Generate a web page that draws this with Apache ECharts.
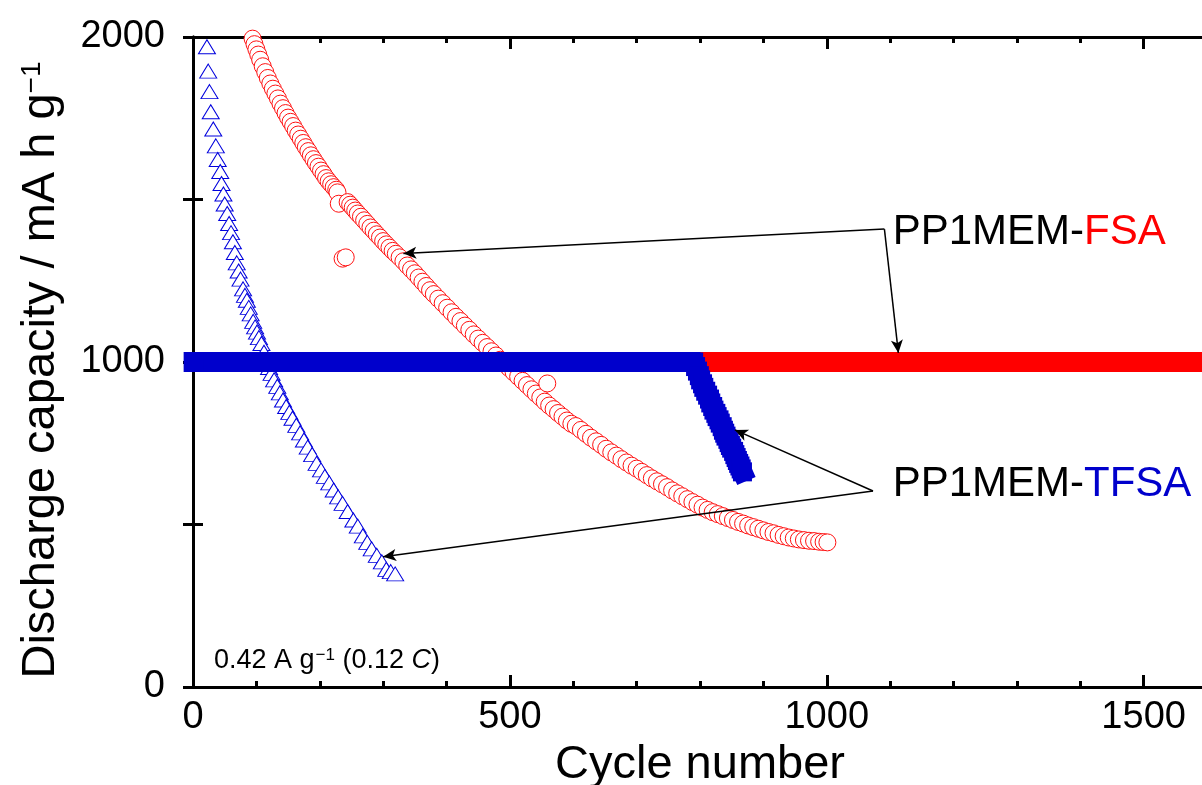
<!DOCTYPE html>
<html>
<head>
<meta charset="utf-8">
<script src="https://cdn.jsdelivr.net/npm/echarts@6/dist/echarts.min.js"></script>
<style>
html,body{margin:0;padding:0;background:#fff;overflow:hidden;}
#chart{width:1202px;height:785px;}
</style>
</head>
<body>
<div id="chart"></div>
<script>
// ---------------- data ----------------
// PP1MEM-FSA discharge capacity (open red circles)
const fsaCycles = [94,97,100,103,106,110,114,118,122,126,130,134,138,142,146,150,154,158,162,166,170,174,178,182,186,190,194,198,202,206,210,214,218,222,226,228,230,236,241,244,248,252,256,260,265,270,275,280,285,290,295,300,305,310,315,320,326,332,338,344,350,356,362,368,374,380,387,394,401,408,415,422,429,436,443,450,457,464,471,478,485,492,499,506,513,520,527,534,541,548,555,559,562,569,576,583,590,597,604,612,620,628,636,644,652,660,668,676,684,692,700,708,716,724,732,740,748,756,764,772,780,788,796,804,812,820,828,836,844,852,860,868,876,884,892,900,908,916,924,932,940,948,956,964,972,980,988,995,1001];
const fsaValues = [1995,1978,1962,1946,1930,1910,1892,1874,1857,1841,1826,1811,1795,1781,1766,1752,1739,1726,1712,1700,1687,1674,1661,1649,1636,1624,1612,1601,1589,1578,1566,1556,1547,1538,1530,1522,1487,1318,1322,1492,1484,1475,1466,1457,1447,1436,1425,1414,1404,1393,1383,1372,1362,1352,1342,1333,1322,1310,1297,1285,1273,1260,1247,1234,1221,1209,1195,1181,1167,1153,1139,1126,1112,1099,1085,1072,1059,1046,1033,1020,1007,994,981,968,955,942,929,916,903,891,878,934,866,855,843,832,820,810,803,791,779,767,756,745,733,722,712,701,691,681,672,662,652,642,633,624,615,605,596,587,578,569,561,552,545,538,532,526,520,514,508,503,497,492,487,482,477,473,468,464,460,457,454,452,450,449,447,446,445];

// PP1MEM-TFSA discharge capacity (open blue triangles)
const tfsaCycles = [22,24,26,28,32,36,39,43,45,48,50,54,57,60,63,66,69,72,75,79,82,85,88,91,95,98,101,104,108,112,116,120,124,128,133,137,142,147,152,157,163,169,175,181,188,195,202,208,215,222,229,236,244,253,260,268,275,282,290,298,305,312,319];
const tfsaValues = [1970,1895,1832,1770,1717,1665,1623,1586,1549,1517,1486,1457,1426,1398,1370,1337,1305,1280,1255,1225,1205,1190,1168,1148,1125,1108,1092,1075,1057,1030,1001,983,965,945,925,905,883,863,845,827,805,782,760,738,715,688,668,648,628,606,585,565,540,514,495,465,445,425,405,385,362,355,348];

// Charge capacity (capacity-limited at 1000), thick bands
const fsaChargeCycles = [1,1620];
const fsaChargeValues = [1000,1000];
const tfsaChargeCycles = [1,790,793,796,799,801,804,806,809,812,815,817,820,822,825,827,830,832,835,837,839,841,844,846,848,850,853,855,857,859,861,863,865,867];
const tfsaChargeValues = [1000,1000,986,972,958,945,933,922,910,898,886,874,863,852,842,832,822,812,801,790,781,772,762,752,743,735,725,715,706,697,688,680,671,662];

// annotation arrows: [fromCycle, fromValue, toCycle, toValue]
const arrows = [
  [1091, 1409, 332, 1334],
  [1091, 1409, 1113, 1028],
  [1073, 603, 855, 791],
  [1073, 603, 300, 401]
];

// axis tick labels
const xLabelValues = [0, 500, 1000, 1500];
const yLabelValues = [0, 1000, 2000];

// ---------------- chart ----------------
const pair = (xs, ys) => xs.map((x, i) => [x, ys[i]]);
const FONT = '"Liberation Sans", Arial, sans-serif';
const chart = echarts.init(document.getElementById('chart'), null, {renderer: 'canvas'});

const axisLine = {show: true, lineStyle: {color: '#000', width: 3}};
function xAx(pos, interval, len, labels) {
  return {
    type: 'value', position: pos, min: 0, max: 1600, interval: interval,
    axisLine: axisLine,
    axisTick: {show: true, inside: true, length: len, lineStyle: {color: '#000', width: 3}},
    axisLabel: labels ? {
      show: true, fontSize: 38, fontFamily: FONT, color: '#000', margin: 12,
      formatter: v => xLabelValues.includes(v) ? String(v) : ''
    } : {show: false},
    splitLine: {show: false}
  };
}
const xAxes = [xAx('bottom', 500, 12, true), xAx('bottom', 100, 6, false), xAx('top', 500, 12, false), xAx('top', 100, 6, false)];
xAxes[0].name = 'Cycle number';
xAxes[0].nameLocation = 'middle';
xAxes[0].nameGap = 46;
xAxes[0].nameTextStyle = {fontSize: 47, fontFamily: FONT, color: '#000'};

function yAx(pos, labels) {
  return {
    type: 'value', position: pos, min: 0, max: 2000, interval: 500,
    axisLine: axisLine,
    axisTick: {show: true, inside: true, length: 10, lineStyle: {color: '#000', width: 3}},
    axisLabel: labels ? {
      show: true, fontSize: 38, fontFamily: FONT, color: '#000', margin: 28,
      formatter: v => yLabelValues.includes(v) ? String(v) : ''
    } : {show: false},
    splitLine: {show: false}
  };
}
const yAxes = [yAx('left', true), yAx('right', false)];
yAxes[0].name = 'Discharge capacity / mA h g{sup|\u22121}';
yAxes[0].nameLocation = 'middle';
yAxes[0].nameGap = 128;
yAxes[0].nameRotate = 90;
yAxes[0].nameTextStyle = {
  fontSize: 47, fontFamily: FONT, color: '#000', padding: [0, 16, 0, 0],
  rich: {sup: {fontSize: 28, verticalAlign: 'top', fontFamily: FONT, color: '#000'}}
};

const option = {
  animation: false,
  backgroundColor: '#fff',
  grid: {left: 193, top: 37, width: 1014, height: 650, containLabel: false, outerBoundsMode: 'none'},
  title: {
    text: '0.42 A g{sup|\u22121} (0.12 {it|C})',
    left: 214, top: 647, padding: 0,
    textStyle: {
      fontSize: 27, fontWeight: 'normal', fontFamily: FONT, color: '#000',
      rich: {
        sup: {fontSize: 17, verticalAlign: 'top', fontFamily: FONT, color: '#000', padding: [0, 0, 0, 1]},
        it: {fontSize: 27, fontStyle: 'italic', fontFamily: FONT, color: '#000'}
      }
    }
  },
  xAxis: xAxes,
  yAxis: yAxes,
  series: [
    {
      type: 'scatter', name: 'FSA discharge', data: pair(fsaCycles, fsaValues),
      symbol: 'circle', symbolSize: 17, clip: false,
      itemStyle: {color: '#fff', borderColor: '#ff1010', borderWidth: 1, opacity: 1},
      z: 2
    },
    {
      type: 'scatter', name: 'TFSA discharge', data: pair(tfsaCycles, tfsaValues),
      symbol: 'triangle', symbolSize: [17, 14], clip: false,
      itemStyle: {color: '#fff', borderColor: '#0000dd', borderWidth: 1, opacity: 1},
      z: 2
    },
    {
      type: 'line', name: 'FSA charge', data: pair(fsaChargeCycles, fsaChargeValues),
      showSymbol: false, clip: false,
      lineStyle: {color: '#ff0000', width: 20, cap: 'butt'},
      z: 3
    },
    {
      type: 'line', name: 'TFSA charge', data: pair(tfsaChargeCycles, tfsaChargeValues),
      symbol: 'rect', symbolSize: 19, showSymbol: true, showAllSymbol: true, clip: false,
      itemStyle: {color: '#0000cc', borderWidth: 0},
      lineStyle: {color: '#0000cc', width: 20, cap: 'square', join: 'miter'},
      z: 4
    },
    {
      type: 'line', name: 'arrows', data: [], z: 5,
      markLine: {
        silent: true, animation: false,
        symbol: ['none', 'arrow'], symbolSize: [9, 13],
        label: {show: false},
        lineStyle: {color: '#000', width: 1.5, type: 'solid'},
        data: arrows.map(a => [{coord: [a[0], a[1]]}, {coord: [a[2], a[3]]}])
      }
    }
  ],
  graphic: [
    {type: 'text', x: 1084, y: 232, z: 10, style: {text: 'PP1MEM-', fontSize: 42, fontFamily: FONT, fill: '#000', align: 'right', verticalAlign: 'middle'}},
    {type: 'text', x: 1084, y: 232, z: 10, style: {text: 'FSA', fontSize: 42, fontFamily: FONT, fill: '#ff0000', align: 'left', verticalAlign: 'middle'}},
    {type: 'text', x: 1084, y: 484, z: 10, style: {text: 'PP1MEM-', fontSize: 42, fontFamily: FONT, fill: '#000', align: 'right', verticalAlign: 'middle'}},
    {type: 'text', x: 1084, y: 484, z: 10, style: {text: 'TFSA', fontSize: 42, fontFamily: FONT, fill: '#0000cc', align: 'left', verticalAlign: 'middle'}}
  ]
};
chart.setOption(option);
</script>
</body>
</html>
